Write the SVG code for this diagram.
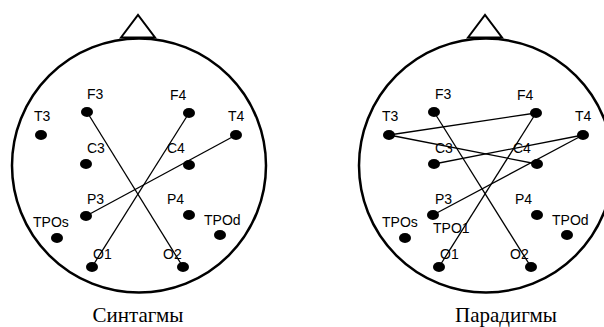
<svg xmlns="http://www.w3.org/2000/svg" width="604" height="327" viewBox="0 0 604 327">
<style>
.head{fill:none;stroke:#000;stroke-width:2.5}
.nose{fill:none;stroke:#000;stroke-width:2;stroke-linejoin:miter}
.dot{fill:#000}
.lbl{font-family:"Liberation Sans",Arial,sans-serif;font-size:14px;fill:#000}
.cap{font-family:"Liberation Serif","Times New Roman",serif;font-size:21px;fill:#000;text-anchor:middle}
.conn line{stroke:#000;stroke-width:1.3}
</style>
<rect width="604" height="327" fill="#fff"/>
<g id="head-left">
<circle class="head" cx="139" cy="165.5" r="127"/>
<polygon class="nose" points="121,37.5 138,15 155,37.5"/>
</g>
<g id="head-right">
<circle class="head" cx="486" cy="165.5" r="127"/>
<polygon class="nose" points="468,37.5 485,15 502,37.5"/>
</g>
<g id="connectors-left" class="conn">
<line x1="87" y1="112" x2="183" y2="267"/>
<line x1="189" y1="113" x2="92" y2="267"/>
<line x1="236" y1="135" x2="86" y2="216"/>
</g>
<g id="connectors-right" class="conn">
<line x1="389" y1="135" x2="536" y2="113"/>
<line x1="389" y1="135" x2="537" y2="164"/>
<line x1="583" y1="135" x2="434" y2="164"/>
<line x1="583" y1="135" x2="433" y2="215"/>
<line x1="434" y1="112" x2="531" y2="267"/>
<line x1="536" y1="113" x2="439" y2="267"/>
</g>
<g id="L-F3"><ellipse class="dot" cx="87" cy="112" rx="6" ry="5"/><text class="lbl" x="87" y="99">F3</text></g>
<g id="L-F4"><ellipse class="dot" cx="189" cy="113" rx="6" ry="5"/><text class="lbl" x="170" y="100">F4</text></g>
<g id="L-T3"><ellipse class="dot" cx="41" cy="135" rx="6" ry="5"/><text class="lbl" x="34" y="121">T3</text></g>
<g id="L-T4"><ellipse class="dot" cx="236" cy="135" rx="6" ry="5"/><text class="lbl" x="228" y="121">T4</text></g>
<g id="L-C3"><ellipse class="dot" cx="86" cy="164" rx="6" ry="5"/><text class="lbl" x="87" y="153">C3</text></g>
<g id="L-C4"><ellipse class="dot" cx="189" cy="165" rx="6" ry="5"/><text class="lbl" x="167" y="153">C4</text></g>
<g id="L-P3"><ellipse class="dot" cx="86" cy="216" rx="6" ry="5"/><text class="lbl" x="87" y="204">P3</text></g>
<g id="L-P4"><ellipse class="dot" cx="189" cy="215" rx="6" ry="5"/><text class="lbl" x="167" y="204">P4</text></g>
<g id="L-TPOs"><ellipse class="dot" cx="57" cy="238" rx="6" ry="5"/><text class="lbl" x="33" y="227">TPOs</text></g>
<g id="L-TPOd"><ellipse class="dot" cx="220" cy="235" rx="6" ry="5"/><text class="lbl" x="204" y="225">TPOd</text></g>
<g id="L-O1"><ellipse class="dot" cx="92" cy="267" rx="6" ry="5"/><text class="lbl" x="93" y="259">O1</text></g>
<g id="L-O2"><ellipse class="dot" cx="183" cy="267" rx="6" ry="5"/><text class="lbl" x="163" y="259">O2</text></g>
<g id="R-F3"><ellipse class="dot" cx="434" cy="112" rx="6" ry="5"/><text class="lbl" x="435" y="99">F3</text></g>
<g id="R-F4"><ellipse class="dot" cx="536" cy="113" rx="6" ry="5"/><text class="lbl" x="517" y="100">F4</text></g>
<g id="R-T3"><ellipse class="dot" cx="389" cy="135" rx="6" ry="5"/><text class="lbl" x="382" y="121">T3</text></g>
<g id="R-T4"><ellipse class="dot" cx="583" cy="135" rx="6" ry="5"/><text class="lbl" x="575" y="121">T4</text></g>
<g id="R-C3"><ellipse class="dot" cx="434" cy="164" rx="6" ry="5"/><text class="lbl" x="435" y="153">C3</text></g>
<g id="R-C4"><ellipse class="dot" cx="537" cy="164" rx="6" ry="5"/><text class="lbl" x="513" y="153">C4</text></g>
<g id="R-P3"><ellipse class="dot" cx="433" cy="215" rx="6" ry="5"/><text class="lbl" x="435" y="204">P3</text></g>
<g id="R-P4"><ellipse class="dot" cx="537" cy="215" rx="6" ry="5"/><text class="lbl" x="515" y="204">P4</text></g>
<g id="R-TPOs"><ellipse class="dot" cx="405" cy="238" rx="6" ry="5"/><text class="lbl" x="382" y="227">TPOs</text></g>
<g id="R-TPO1"><text class="lbl" x="433" y="233">TPO1</text></g>
<g id="R-TPOd"><ellipse class="dot" cx="567" cy="235" rx="6" ry="5"/><text class="lbl" x="552" y="225">TPOd</text></g>
<g id="R-O1"><ellipse class="dot" cx="439" cy="267" rx="6" ry="5"/><text class="lbl" x="440" y="259">O1</text></g>
<g id="R-O2"><ellipse class="dot" cx="531" cy="267" rx="6" ry="5"/><text class="lbl" x="510" y="259">O2</text></g>
<text class="cap" x="138" y="322">Синтагмы</text>
<text class="cap" x="506" y="322">Парадигмы</text>
</svg>
